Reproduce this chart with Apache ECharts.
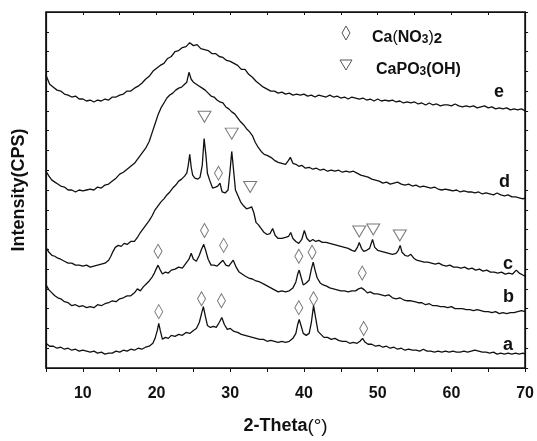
<!DOCTYPE html>
<html>
<head>
<meta charset="utf-8">
<script src="https://cdn.jsdelivr.net/npm/echarts@6/dist/echarts.min.js"></script>
<style>
  html, body { margin: 0; padding: 0; background: #fff; }
  #chart { width: 537px; height: 441px; }
</style>
</head>
<body>
<div id="chart"></div>
<script>
// XRD patterns: [2-Theta (deg), intensity (a.u., traces stacked with offsets)]
const traceA = [[5.0,25],[5.5,22],[6.0,22],[6.5,20],[7.0,21],[7.5,19],[8.0,20],[8.5,18],[9.0,19],[9.5,17],[10.0,18],[10.5,17],[11.0,16],[11.5,17],[12.0,15],[12.5,16],[13.0,14],[13.5,15],[14.0,15],[14.5,17],[15.0,16],[15.5,18],[16.0,17],[16.5,19],[17.0,18],[17.5,20],[18.0,19],[18.5,21],[19.0,22],[19.5,25],[19.8,30],[20.1,38],[20.3,45],[20.5,38],[20.8,29],[21.2,31],[21.6,30],[22.0,33],[22.5,32],[23.0,34],[23.5,33],[24.0,36],[24.5,35],[25.0,38],[25.4,40],[25.8,46],[26.1,55],[26.35,62],[26.6,53],[26.9,43],[27.3,41],[27.7,42],[28.1,41],[28.5,46],[28.85,51],[29.2,44],[29.6,39],[30.0,40],[30.5,37],[31.0,36],[31.5,34],[32.0,33],[32.5,32],[33.0,31],[33.5,30],[34.0,29],[34.5,29],[35.0,27],[35.5,28],[36.0,27],[36.5,26],[37.0,27],[37.5,26],[38.0,27],[38.5,30],[38.9,35],[39.15,44],[39.35,49],[39.6,43],[39.9,35],[40.3,33],[40.7,35],[41.0,46],[41.3,63],[41.6,50],[41.9,37],[42.3,34],[42.7,31],[43.2,31],[43.7,29],[44.2,30],[44.7,28],[45.2,27],[45.7,27],[46.2,25],[46.7,26],[47.2,25],[47.6,27],[47.95,30],[48.3,26],[48.7,24],[49.2,24],[49.7,22],[50.2,23],[50.7,21],[51.2,22],[51.7,20],[52.2,21],[52.7,19],[53.2,20],[53.7,18],[54.2,19],[54.7,18],[55.2,18],[55.7,17],[56.2,19],[56.7,17],[57.2,17],[57.7,16],[58.2,17],[58.7,16],[59.2,17],[59.7,16],[60.2,17],[60.7,16],[61.2,16],[61.7,17],[62.2,16],[62.7,17],[63.2,18],[63.7,17],[64.2,16],[64.7,16],[65.2,15],[65.7,16],[66.2,14],[66.7,15],[67.2,14],[67.7,15],[68.2,14],[68.7,15],[69.2,14],[69.7,15],[70.0,14]];

const traceB = [[5.0,84],[5.4,79],[5.8,76],[6.2,73],[6.6,71],[7.0,70],[7.5,67],[8.0,66],[8.5,63],[9.0,64],[9.5,62],[10.0,63],[10.5,61],[11.0,62],[11.5,61],[12.0,64],[12.5,63],[13.0,65],[13.5,66],[14.0,68],[14.5,67],[15.0,70],[15.5,71],[16.0,73],[16.5,73],[17.0,76],[17.4,80],[17.8,78],[18.2,82],[18.6,85],[19.0,88],[19.4,92],[19.7,96],[20.0,101],[20.2,104],[20.5,99],[20.8,95],[21.2,97],[21.6,96],[22.0,99],[22.5,100],[23.0,102],[23.5,101],[24.0,106],[24.4,110],[24.7,116],[25.0,110],[25.4,108],[25.8,114],[26.1,120],[26.4,125],[26.7,118],[27.0,110],[27.4,104],[27.8,104],[28.2,103],[28.6,106],[29.0,109],[29.4,104],[29.8,103],[30.1,106],[30.4,109],[30.8,102],[31.2,97],[31.6,95],[32.0,93],[32.5,91],[33.0,90],[33.5,88],[34.0,87],[34.5,85],[35.0,83],[35.5,81],[36.0,79],[36.5,77],[37.0,78],[37.5,77],[38.0,78],[38.5,81],[38.9,87],[39.15,95],[39.35,99],[39.6,92],[39.9,84],[40.3,86],[40.7,89],[41.0,100],[41.25,107],[41.5,99],[41.8,91],[42.2,86],[42.6,84],[43.0,83],[43.5,81],[44.0,80],[44.5,79],[45.0,78],[45.5,78],[46.0,77],[46.5,78],[47.0,78],[47.4,80],[47.8,81],[48.2,79],[48.6,76],[49.0,77],[49.5,75],[50.0,75],[50.5,74],[51.0,73],[51.5,74],[52.0,71],[52.5,70],[53.0,71],[53.5,69],[54.0,68],[54.5,68],[55.0,67],[55.5,66],[56.0,66],[56.5,64],[57.0,65],[57.5,63],[58.0,63],[58.5,62],[59.0,62],[59.5,61],[60.0,62],[60.5,60],[61.0,60],[61.5,60],[62.0,59],[62.5,59],[63.0,58],[63.5,59],[64.0,58],[64.5,57],[65.0,57],[65.5,56],[66.0,57],[66.5,55],[67.0,56],[67.5,55],[68.0,56],[68.5,56],[69.0,57],[69.5,58],[70.0,57]];

const traceC = [[5.0,122],[5.4,117],[5.8,114],[6.2,113],[6.6,111],[7.0,110],[7.5,108],[8.0,106],[8.5,106],[9.0,104],[9.5,104],[10.0,103],[10.5,104],[11.0,102],[11.5,103],[12.0,104],[12.5,105],[13.0,106],[13.5,109],[13.8,113],[14.1,118],[14.4,122],[14.8,124],[15.2,123],[15.6,126],[16.0,125],[16.5,128],[17.0,128],[17.4,132],[17.8,137],[18.2,141],[18.6,145],[19.0,149],[19.4,154],[19.8,160],[20.2,164],[20.6,168],[21.0,171],[21.4,175],[21.8,178],[22.2,182],[22.6,185],[23.0,189],[23.4,191],[23.8,194],[24.1,197],[24.3,205],[24.5,216],[24.7,203],[24.9,195],[25.2,192],[25.6,191],[25.9,193],[26.2,205],[26.45,232],[26.7,215],[26.9,197],[27.2,190],[27.6,182],[28.0,183],[28.3,184],[28.6,187],[28.9,178],[29.3,177],[29.7,180],[29.95,198],[30.2,219],[30.45,200],[30.7,180],[31.0,175],[31.4,168],[31.8,164],[32.2,161],[32.6,162],[32.9,163],[33.2,157],[33.5,147],[33.8,145],[34.2,141],[34.6,137],[35.0,135],[35.4,136],[35.75,141],[36.1,134],[36.5,131],[37.0,131],[37.5,132],[37.9,133],[38.2,137],[38.5,131],[38.9,128],[39.3,126],[39.7,130],[40.05,139],[40.4,131],[40.8,128],[41.2,130],[41.6,128],[42.0,129],[42.5,127],[43.0,127],[43.5,126],[44.0,125],[44.5,124],[45.0,123],[45.5,122],[46.0,121],[46.5,119],[46.9,118],[47.25,122],[47.5,127],[47.8,121],[48.1,118],[48.5,119],[48.9,121],[49.3,130],[49.6,122],[50.0,119],[50.5,118],[51.0,117],[51.5,116],[52.0,115],[52.5,116],[52.8,119],[53.05,124],[53.3,117],[53.7,114],[54.1,113],[54.5,115],[54.9,111],[55.3,109],[55.8,108],[56.3,107],[56.8,107],[57.3,106],[57.8,105],[58.3,106],[58.8,104],[59.3,103],[59.8,104],[60.3,102],[60.8,102],[61.3,101],[61.8,102],[62.3,100],[62.8,101],[63.3,99],[63.8,100],[64.3,98],[64.8,99],[65.3,97],[65.8,97],[66.3,96],[66.8,97],[67.3,95],[67.8,96],[68.3,95],[68.8,99],[69.2,96],[69.7,94],[70.0,93]];

const traceD = [[5.0,199],[5.4,194],[5.8,190],[6.2,188],[6.6,186],[7.0,184],[7.5,183],[8.0,180],[8.5,180],[9.0,178],[9.5,180],[10.0,179],[10.5,180],[11.0,181],[11.5,180],[12.0,183],[12.5,182],[13.0,185],[13.5,186],[14.0,189],[14.5,192],[15.0,196],[15.5,198],[16.0,201],[16.5,204],[17.0,207],[17.5,212],[18.0,217],[18.5,222],[19.0,229],[19.4,238],[19.8,247],[20.2,256],[20.6,263],[21.0,268],[21.4,273],[21.8,276],[22.2,278],[22.6,281],[23.0,283],[23.4,284],[23.8,287],[24.1,289],[24.4,299],[24.7,292],[25.0,289],[25.4,287],[25.8,285],[26.2,283],[26.6,281],[27.0,278],[27.4,275],[27.8,274],[28.2,271],[28.6,269],[29.0,268],[29.4,264],[29.8,262],[30.2,259],[30.6,257],[31.0,253],[31.4,249],[31.8,246],[32.2,242],[32.6,239],[33.0,235],[33.4,228],[33.8,223],[34.2,219],[34.6,216],[35.0,215],[35.5,213],[36.0,210],[36.5,208],[37.0,207],[37.5,206],[37.9,210],[38.15,213],[38.5,207],[38.9,206],[39.3,204],[39.7,205],[40.2,202],[40.7,203],[41.2,201],[41.7,202],[42.2,200],[42.7,201],[43.2,199],[43.7,200],[44.2,199],[44.7,200],[45.2,198],[45.7,199],[46.2,198],[46.7,199],[47.2,197],[47.7,195],[48.2,194],[48.7,193],[49.2,191],[49.7,190],[50.2,189],[50.7,187],[51.2,188],[51.7,186],[52.2,187],[52.7,188],[53.2,186],[53.7,185],[54.2,186],[54.7,184],[55.2,185],[55.7,183],[56.2,184],[56.7,183],[57.2,182],[57.7,183],[58.2,181],[58.7,180],[59.2,181],[59.7,180],[60.2,179],[60.7,180],[61.2,178],[61.7,179],[62.2,178],[62.7,178],[63.2,177],[63.7,178],[64.2,176],[64.7,177],[65.2,176],[65.7,175],[66.2,177],[66.7,175],[67.2,174],[67.7,175],[68.2,173],[68.7,173],[69.2,172],[69.7,171],[70.0,172]];

const traceE = [[5.0,296],[5.5,287],[6.0,284],[6.5,281],[7.0,280],[7.5,277],[8.0,276],[8.5,274],[9.0,275],[9.5,272],[10.0,272],[10.5,270],[11.0,271],[11.5,269],[12.0,271],[12.5,270],[13.0,272],[13.5,271],[14.0,274],[14.5,274],[15.0,276],[15.5,277],[16.0,280],[16.5,280],[17.0,283],[17.5,285],[18.0,288],[18.5,292],[19.0,295],[19.5,300],[20.0,303],[20.5,306],[21.0,308],[21.5,313],[22.0,315],[22.5,320],[23.0,321],[23.5,324],[24.0,325],[24.5,329],[25.0,326],[25.5,327],[26.0,323],[26.5,322],[27.0,321],[27.5,318],[28.0,318],[28.5,315],[29.0,314],[29.5,311],[30.0,310],[30.5,308],[31.0,306],[31.5,302],[32.0,302],[32.5,297],[33.0,294],[33.5,290],[34.0,287],[34.5,284],[35.0,282],[35.5,280],[36.0,280],[36.5,278],[37.0,279],[37.5,277],[38.0,278],[38.5,276],[39.0,277],[39.5,276],[40.0,277],[40.5,275],[41.0,276],[41.5,274],[42.0,276],[42.5,275],[43.0,274],[43.5,276],[44.0,274],[44.5,275],[45.0,273],[45.5,274],[46.0,272],[46.5,274],[47.0,273],[47.5,272],[48.0,273],[48.5,271],[49.0,272],[49.5,270],[50.0,272],[50.5,270],[51.0,271],[51.5,270],[52.0,271],[52.5,269],[53.0,270],[53.5,268],[54.0,269],[54.5,268],[55.0,269],[55.5,267],[56.0,268],[56.5,266],[57.0,268],[57.5,266],[58.0,267],[58.5,265],[59.0,266],[59.5,266],[60.0,265],[60.5,267],[61.0,265],[61.5,264],[62.0,265],[62.5,264],[63.0,265],[63.5,263],[64.0,264],[64.5,265],[65.0,263],[65.5,264],[66.0,262],[66.5,263],[67.0,262],[67.5,263],[68.0,261],[68.5,262],[69.0,261],[69.5,262],[70.0,260]];

// Peak assignments (placed just above the reflections)
const nitratePeaks = [[28.4,197],[20.2,118],[26.5,139],[29.1,124],[39.3,113],[41.1,117],[47.9,96],[20.3,57],[26.1,70],[28.8,68],[39.3,61],[41.3,70],[48.1,40]];
const phosphatePeaks = [[26.5,254],[30.2,237],[32.7,183],[47.5,138],[49.4,140],[53.0,134]];

const xMin = 5, xMax = 70, xStep = 5;
const yMin = 0, yMax = 360, yStep = 20;

const traceNames = ['a', 'b', 'c', 'd', 'e'];
const traces = [traceA, traceB, traceC, traceD, traceE];

const ink = '#111';
const font = 'Liberation Sans, Arial, sans-serif';

function trace(name, data) {
  return {
    name, type: 'line', data, showSymbol: false, symbol: 'none',
    lineStyle: { color: ink, width: 1.3 }, silent: true
  };
}

function frameLine() {
  return { show: true, onZero: false, lineStyle: { color: ink, width: 1.2 } };
}

const chart = echarts.init(document.getElementById('chart'), null, { renderer: 'canvas' });

chart.setOption({
  animation: false,
  backgroundColor: '#fff',
  grid: {
    left: 46, right: 8, top: 12, bottom: 70,
    show: true, borderColor: ink, borderWidth: 1.2
  },
  xAxis: [
    {
      type: 'value', position: 'bottom', min: xMin, max: xMax, interval: xStep,
      axisLine: frameLine(),
      axisTick: { show: true, inside: false, length: 4, lineStyle: { color: ink } },
      axisLabel: {
        margin: 18, color: ink, fontSize: 16, fontWeight: 'bold', fontFamily: font,
        formatter: v => (v % 10 === 0 ? String(v) : '')
      },
      splitLine: { show: false },
      name: '{b|2-Theta}{n|(°)}', nameLocation: 'middle', nameGap: 49,
      nameTextStyle: {
        rich: {
          b: { fontSize: 18, fontWeight: 'bold', fontFamily: font, color: ink },
          n: { fontSize: 19, fontWeight: 'normal', fontFamily: font, color: ink }
        }
      }
    },
    {
      type: 'value', position: 'top', min: xMin, max: xMax, interval: xStep,
      axisLine: frameLine(),
      axisTick: { show: true, inside: true, length: 3, lineStyle: { color: ink } },
      axisLabel: { show: false }, splitLine: { show: false }
    }
  ],
  yAxis: [
    {
      type: 'value', position: 'left', min: yMin, max: yMax, interval: yStep,
      axisLine: frameLine(),
      axisTick: { show: true, inside: true, length: 3, lineStyle: { color: ink } },
      axisLabel: { show: false }, splitLine: { show: false },
      name: 'Intensity(CPS)', nameLocation: 'middle', nameGap: 18,
      nameTextStyle: { fontSize: 18, fontWeight: 'bold', fontFamily: font, color: ink }
    },
    {
      type: 'value', position: 'right', min: yMin, max: yMax, interval: yStep,
      axisLine: frameLine(),
      axisTick: { show: true, inside: false, length: 3, lineStyle: { color: ink } },
      axisLabel: { show: false }, splitLine: { show: false }
    }
  ],
  series: [
    ...traces.map((d, i) => trace(traceNames[i], d)),
    {
      name: 'Ca(NO3)2', type: 'scatter', data: nitratePeaks,
      symbol: 'diamond', symbolSize: [8, 14], silent: true,
      itemStyle: { color: 'rgba(255,255,255,0)', borderColor: '#555', borderWidth: 1 }
    },
    {
      name: 'CaPO3(OH)', type: 'scatter', data: phosphatePeaks,
      symbol: 'triangle', symbolRotate: 180, symbolSize: [13, 11], silent: true,
      itemStyle: { color: 'rgba(255,255,255,0)', borderColor: '#555', borderWidth: 1 }
    }
  ],
  graphic: [
    // legend
    { id: 'legNitrateIcon', type: 'polygon', shape: { points: [[346, 26], [350, 33], [346, 40], [342, 33]] },
      style: { fill: 'none', stroke: '#555', lineWidth: 1 } },
    { id: 'legNitrateText', type: 'text', x: 372, y: 24,
      style: {
        text: '{b|Ca}{n|(}{b|NO}{s|3}{n|)}{s2|2}',
        rich: {
          b: { fontSize: 16, fontWeight: 'bold', fontFamily: font, fill: ink, verticalAlign: 'bottom', lineHeight: 22 },
          n: { fontSize: 16, fontWeight: 'normal', fontFamily: font, fill: ink, verticalAlign: 'bottom', lineHeight: 22 },
          s: { fontSize: 12, fontWeight: 'bold', fontFamily: font, fill: ink, verticalAlign: 'bottom', lineHeight: 14 },
          s2: { fontSize: 15, fontWeight: 'bold', fontFamily: font, fill: ink, verticalAlign: 'bottom', lineHeight: 14 }
        }
      } },
    { id: 'legPhosphateIcon', type: 'polygon', shape: { points: [[340, 60], [352, 60], [346, 70]] },
      style: { fill: 'none', stroke: '#555', lineWidth: 1 } },
    { id: 'legPhosphateText', type: 'text', x: 376, y: 56,
      style: {
        text: '{b|CaPO}{s|3}{b|(OH)}',
        rich: {
          b: { fontSize: 16, fontWeight: 'bold', fontFamily: font, fill: ink, verticalAlign: 'bottom', lineHeight: 22 },
          s: { fontSize: 12, fontWeight: 'bold', fontFamily: font, fill: ink, verticalAlign: 'bottom', lineHeight: 14 }
        }
      } },
    // trace letters
    ...traceNames.map((t, i) => ({
      id: 'letter-' + t, type: 'text', x: [503, 503, 503, 499, 494][i], y: [336, 288, 255, 173, 83][i],
      style: { text: t, fontSize: 18, fontWeight: 'bold', fontFamily: font, fill: ink }
    }))
  ]
});

// plot frame on its own layer, placed from the axis scales
const corner0 = chart.convertToPixel({ xAxisIndex: 0, yAxisIndex: 0 }, [xMin, yMax]);
const corner1 = chart.convertToPixel({ xAxisIndex: 0, yAxisIndex: 0 }, [xMax, yMin]);
chart.setOption({
  graphic: [{
    id: 'frame', type: 'rect', zlevel: 1, z: 100, silent: true,
    shape: { x: corner0[0], y: corner0[1], width: corner1[0] - corner0[0], height: corner1[1] - corner0[1] },
    style: { fill: 'none', stroke: ink, lineWidth: 1.2 }
  }]
});
</script>
</body>
</html>
